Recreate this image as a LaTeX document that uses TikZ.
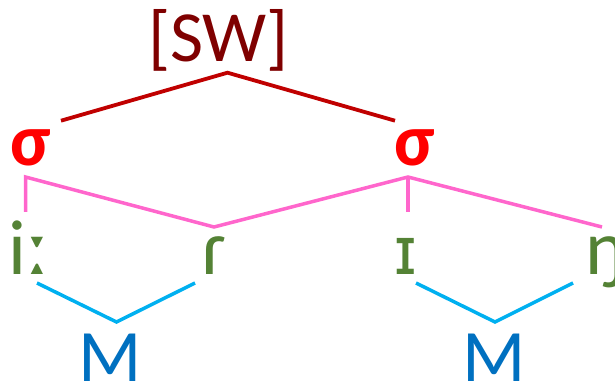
\documentclass[tikz,border=0pt]{standalone}
\usepackage{fontspec}
\setmainfont{Carlito}
\newfontfamily\ipafont{DejaVu Sans}
\definecolor{swcol}{HTML}{7F0000}
\definecolor{redline}{HTML}{C00000}
\definecolor{sigcol}{HTML}{FF0000}
\definecolor{pinkline}{HTML}{FF66CC}
\definecolor{segcol}{HTML}{548235}
\definecolor{blueline}{HTML}{00B0F0}
\definecolor{mcol}{HTML}{0070C0}
\tikzset{
  lbl/.style={inner sep=0pt, anchor=base, font=\fontsize{72}{80}\selectfont},
  swlbl/.style={lbl, text=swcol},
  siglbl/.style={lbl, text=sigcol, font=\fontsize{74}{80}\selectfont\bfseries},
  seglbl/.style={lbl, text=segcol, font=\fontsize{78}{80}\selectfont},
  mlbl/.style={lbl, text=mcol, font=\fontsize{74}{80}\selectfont},
  redln/.style={draw=redline, line width=3.8pt},
  pinkln/.style={draw=pinkline, line width=3.5pt},
  blueln/.style={draw=blueline, line width=3.5pt},
}
\begin{document}
\begin{tikzpicture}[x=1pt, y=-1pt]
\useasboundingbox (0,0) rectangle (615,387);
% labels
\node[swlbl] (sw) at (218.5,62) {[SW]};
\node[siglbl] (s1) at (31,166) {σ};
\node[siglbl] (s2) at (415,166) {σ};
\node[seglbl] (i1) at (28,274) {iː};
\node[seglbl] (r1) at (214,274) {ɾ};
\node[seglbl, font=\fontsize{66}{70}\ipafont] (i2) at (406,274) {ɪ};
\node[seglbl] (n1) at (606,274) {ŋ};
\node[mlbl] (m1) at (110,381) {M};
\node[mlbl] (m2) at (494,381) {M};
% tree points
\coordinate (swb) at (227.5,72.7);
\coordinate (s1t) at (61,120.7);
\coordinate (s2t) at (395,120.7);
\coordinate (s1b) at (25.5,177);
\coordinate (s2b) at (408,177);
\coordinate (i1t) at (25.5,212);
\coordinate (i2t) at (408,212);
\coordinate (r1t) at (214,227);
\coordinate (n1t) at (602,227);
\coordinate (i1b) at (37,283);
\coordinate (m1t) at (116.5,322);
\coordinate (r1b) at (195,283);
\coordinate (i2b) at (416,283);
\coordinate (m2t) at (495,322);
\coordinate (n1b) at (573,283);
% connectors
\draw[redln] (s1t) -- (swb) -- (s2t);
\draw[pinkln] (i1t) -- (s1b) -- (r1t) -- (s2b) -- (n1t);
\draw[pinkln] (s2b) -- (i2t);
\draw[blueln] (i1b) -- (m1t) -- (r1b);
\draw[blueln] (i2b) -- (m2t) -- (n1b);
\end{tikzpicture}
\end{document}
